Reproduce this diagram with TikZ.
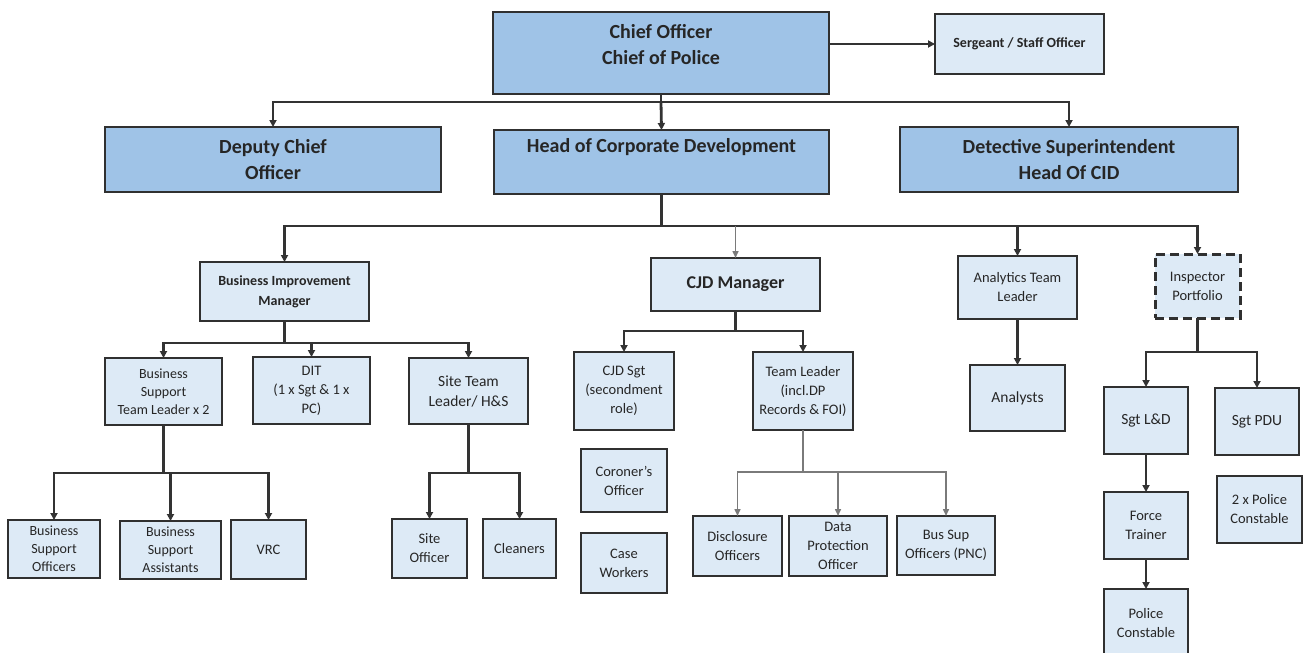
\documentclass[tikz,border=0pt]{standalone}
\usepackage{fontspec}
\setmainfont{Carlito}
\usetikzlibrary{arrows.meta}
\definecolor{bluedark}{HTML}{9FC3E7}
\definecolor{bluelight}{HTML}{DDEAF6}
\definecolor{bord}{HTML}{303030}
\definecolor{linec}{HTML}{333333}
\definecolor{lineg}{HTML}{7A7A7A}
\newcommand\bx[7]{\node[#6, minimum width={(#4-#2)*1pt}, minimum height={(#5-#3)*1pt}] (#1) at ({(#2+#4)/2},{(#3+#5)/2}) {#7};}
\tikzset{
  boxbase/.style={draw=bord, line width=2pt, align=center, inner sep=0pt, outer sep=0pt, text=black!85},
  bigbox/.style={boxbase, fill=bluedark, font=\bfseries\fontsize{20}{26}\selectfont},
  smallbox/.style={boxbase, fill=bluelight, font=\fontsize{14.5}{19}\selectfont},
  tightbox/.style={smallbox, font=\fontsize{14}{18}\selectfont},
  widebox/.style={smallbox, font=\fontsize{15.5}{20}\selectfont},
  bimbox/.style={boxbase, fill=bluelight, font=\bfseries\fontsize{14}{20}\selectfont},
  sergbox/.style={boxbase, fill=bluelight, font=\bfseries\fontsize{14}{16}\selectfont},
  cjdbox/.style={boxbase, fill=bluelight, font=\bfseries\fontsize{18}{20}\selectfont},
  dashbox/.style={smallbox, dash pattern=on 9pt off 5pt, line width=3pt},
  conn/.style={draw=linec, line width=2.8pt},
  arr/.style={conn, -{Triangle[length=7pt,width=7pt]}},
  conng/.style={draw=lineg, line width=1.5pt},
  arrg/.style={conng, -{Triangle[length=7pt,width=6pt]}}
}
\begin{document}
\begin{tikzpicture}[x=1pt,y=-1pt]
\useasboundingbox (0,0) rectangle (1306,653);
\clip (0,0) rectangle (1306,653);
\fill[white] (0,0) rectangle (1306,653);
% top level
\bx{chief}{493}{12}{829}{94}{bigbox}{Chief Officer\\Chief of Police\\[-8pt]\mbox{}}
\bx{serg}{935}{14}{1104}{74}{sergbox}{Sergeant / Staff Officer}
\bx{dep}{105}{127}{441}{192}{bigbox}{Deputy Chief\\Officer}
\bx{hocd}{494}{130}{829}{194}{bigbox}{Head of Corporate Development\\\strut}
\bx{det}{900}{127}{1238}{192}{bigbox}{Detective Superintendent\\Head Of CID}
% third level
\bx{bim}{200}{262}{369}{321}{bimbox}{Business Improvement\\Manager}
\bx{cjd}{651}{258}{820}{311}{cjdbox}{CJD Manager}
\bx{ana}{958}{256}{1077}{319}{smallbox}{Analytics Team\\Leader}
\bx{insp}{1155}{254}{1240}{318}{dashbox}{Inspector\\Portfolio}
% BIM branch
\bx{bstl}{105}{358}{222}{425}{tightbox}{Business\\Support\\Team Leader x 2}
\bx{dit}{253}{357}{370}{424}{smallbox}{DIT\\(1 x Sgt \& 1 x\\PC)}
\bx{stl}{409}{358}{528}{424}{widebox}{Site Team\\Leader/ H\&S}
\bx{bso}{8}{520}{100}{578}{tightbox}{Business\\Support\\Officers}
\bx{bsa}{120}{521}{221}{579}{tightbox}{Business\\Support\\Assistants}
\bx{vrc}{231}{520}{306}{579}{smallbox}{VRC}
\bx{so}{392}{519}{467}{578}{smallbox}{Site\\Officer}
\bx{cl}{483}{519}{556}{578}{smallbox}{Cleaners}
% CJD branch
\bx{cjds}{574}{352}{674}{430}{smallbox}{CJD Sgt\\(secondment\\role)}
\bx{tl}{753}{352}{853}{430}{smallbox}{Team Leader\\(incl.DP\\Records \& FOI)}
\bx{cor}{581}{449}{667}{512}{smallbox}{Coroner's\\Officer}
\bx{cw}{581}{533}{667}{593}{smallbox}{Case\\Workers}
\bx{disc}{693}{516}{782}{576}{smallbox}{Disclosure\\Officers}
\bx{dpo}{789}{516}{887}{576}{smallbox}{Data\\Protection\\Officer}
\bx{bsup}{897}{516}{995}{575}{smallbox}{Bus Sup\\Officers (PNC)}
% analytics / inspector branch
\bx{anl}{970}{365}{1065}{431}{widebox}{Analysts}
\bx{lnd}{1104}{387}{1188}{454}{widebox}{Sgt L\&D}
\bx{pdu}{1215}{388}{1299}{455}{widebox}{Sgt PDU}
\bx{tpc}{1217}{476}{1302}{543}{smallbox}{2 x Police\\Constable}
\bx{ft}{1104}{492}{1188}{559}{smallbox}{Force\\Trainer}
\bx{pc}{1104}{589}{1188}{658}{smallbox}{Police\\Constable}
% connectors
\draw[arr] (chief.east |- serg.west) -- (serg.west);
\coordinate (c1) at (661,102);
\draw[conn] (chief.south) -- (c1);
\draw[arr] (c1) -| (dep.north);
\draw[arr] (c1) -- (hocd.north);
\draw[arr] (c1) -| (det.north);
\coordinate (c2) at (661.5,226);
\draw[conn] (hocd.south) -- (c2);
\draw[arr] (c2) -| (bim.north);
\draw[arr] (c2) -| (ana.north);
\draw[arr] (c2) -| (insp.north);
\draw[arrg] (cjd.north |- c2) -- (cjd.north);
\coordinate (c3) at (284.5,343);
\draw[conn] (bim.south) -- (c3);
\draw[arr] (c3) -| (bstl.north);
\draw[arr] (c3) -| (dit.north);
\draw[arr] (c3) -| (stl.north);
\coordinate (c4) at (163.5,473);
\draw[conn] (bstl.south) -- (c4);
\draw[arr] (c4) -| (bso.north);
\draw[arr] (c4) -| (bsa.north);
\draw[arr] (c4) -| (vrc.north);
\coordinate (c5) at (468.5,473);
\draw[conn] (stl.south) -- (c5);
\draw[arr] (c5) -| (so.north);
\draw[arr] (c5) -| (cl.north);
\coordinate (c6) at (735.5,331);
\draw[conn] (cjd.south) -- (c6);
\draw[arr] (c6) -| (cjds.north);
\draw[arr] (c6) -| (tl.north);
\coordinate (c7) at (803,472);
\draw[conng] (tl.south) -- (c7);
\draw[arrg] (c7) -| (disc.north);
\draw[arrg] (c7) -| (dpo.north);
\draw[arrg] (c7) -| (bsup.north);
\draw[arr] (ana.south) -- (ana.south |- anl.north);
\coordinate (c8) at (1197.5,352);
\draw[conn] (insp.south) -- (c8);
\draw[arr] (c8) -| (lnd.north);
\draw[arr] (c8) -| (pdu.north);
\draw[arr] (lnd.south) -- (ft.north);
\draw[arr] (ft.south) -- (pc.north);
\end{tikzpicture}
\end{document}
